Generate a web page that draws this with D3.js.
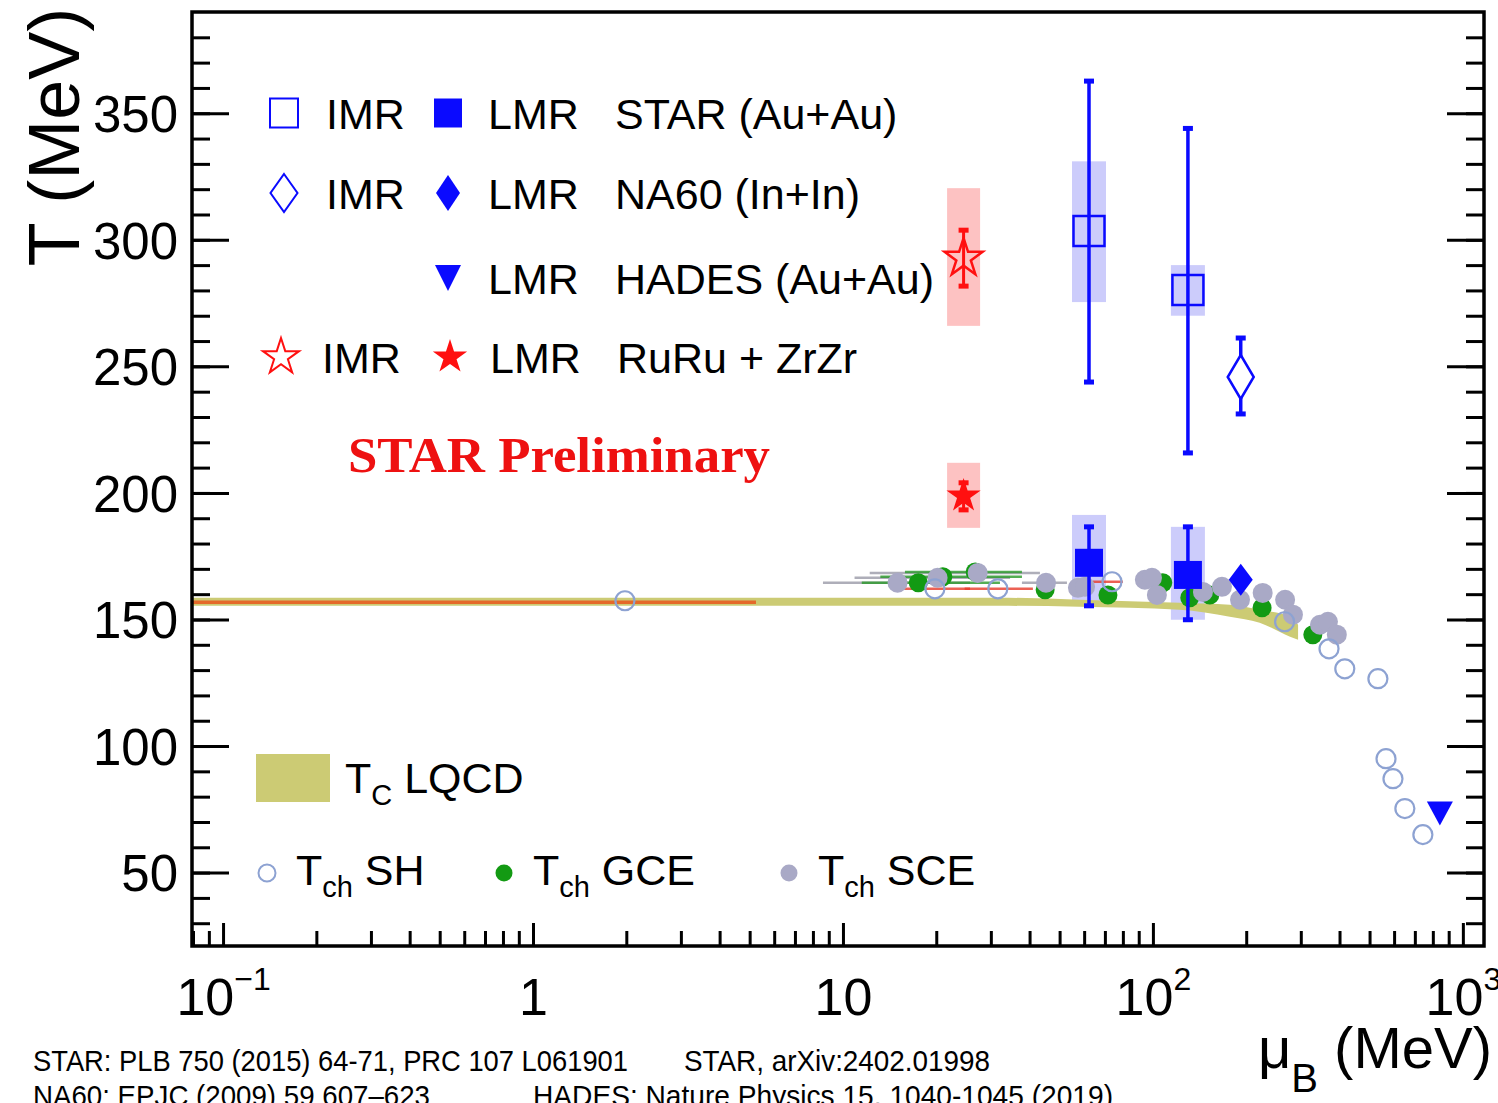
<!DOCTYPE html>
<html>
<head>
<meta charset="utf-8">
<script src="https://cdn.jsdelivr.net/npm/d3@7"></script>
<style>
  body { margin: 0; background: #fff; }
  svg { display: block; }
</style>
</head>
<body>
<div id="chart"></div>
<script>
// ---- values ----
// LQCD crossover band: muB, T low, T high
var lqcdBand = [[0.0794,155.4,158.6],[32,155.4,158.6],[58,155.0,157.8],[122,153.8,156.6],
                [177,151.1,155.8],[221,148.7,153.8],[277,143.2,151.1],[294,142.0,147.9]];
// T_c at muB = 0 drawn as a line
var lqcdLine = [[0.0794,156.8],[5.24,156.8]];

// chemical freeze-out: muB, T, muB low, muB high (null = no bar)
var chSH = [[1.98,157.4,null,null],[19.8,162.1,15.6,25.7],[31.6,162.1,24.7,41.0],[73.8,164.9,64.0,80.0],
            [266,149.1,null,null],[370,138.4,null,null],[416,130.5,null,null],[532,126.6,null,null],
            [565,95.0,null,null],[595,87.1,null,null],[650,75.3,null,null],[743,65.0,null,null]];
var chGCE = [[17.5,164.5,11.5,32.1],[21.0,166.9,13.2,37.8],[26.7,168.8,15.85,37.8],[44.9,161.7,null,null],
             [71.6,159.7,null,null],[107.6,164.5,null,null],[131.5,158.6,null,null],[152.6,159.7,null,null],
             [225,154.6,null,null],[328,144.0,null,null]];
var chSCE = [[15.0,164.5,8.62,25.7],[20.2,166.5,10.9,34.6],[27.2,168.4,12.2,43.2],[45.2,164.5,37.8,52.8],
             [57.3,162.5,null,null],[60.4,162.9,null,null],[94.2,165.7,null,null],[99.3,166.5,null,null],
             [103,159.7,null,null],[145,160.9,null,null],[167,162.9,null,null],[191,157.8,null,null],
             [226,160.5,null,null],[267,157.8,null,null],[283,151.9,null,null],[346,147.9,null,null],
             [367,149.1,null,null],[392,144.0,null,null]];

// dileptons: muB, T, stat low, stat high, sys low, sys high
var starIMR = [[62.2,303.5,243.8,362.7,275.4,331.0],[129.7,280.2,215.8,344.0,270.0,290.0]];
var starLMR = [[62.2,172.4,155.4,186.6,155.4,191.3],[129.7,167.6,149.9,186.6,149.9,186.6]];
var na60IMR = [[192,245.8,231.2,261.2]];
var na60LMR = [[192,165.7]];
var hadesLMR = [[843,73.3]];
var ruruIMR = [[24.5,292.8,281.7,303.8,266.0,320.4]];
var ruruLMR = [[24.5,198.8,193.3,204.0,186.2,211.9]];

var yMajor = [50,100,150,200,250,300,350];
var yMinor = d3.range(30, 390, 10);
var xMajor = [0.1,1,10,100,1000];
var xLabels = [["10","\u22121"],["1",""],["10",""],["10","2"],["10","3"]];
var xMinor = [0.08,0.09,0.2,0.3,0.4,0.5,0.6,0.7,0.8,0.9,2,3,4,5,6,7,8,9,
              20,30,40,50,60,70,80,90,200,300,400,500,600,700,800,900];

var legendTop = [
  {open: "square", filled: "square", label: "STAR (Au+Au)"},
  {open: "diamond", filled: "diamond", label: "NA60 (In+In)"},
  {open: null, filled: "triangle", label: "HADES (Au+Au)"},
  {open: "star", filled: "star", label: "RuRu + ZrZr"}
];
var legendCh = [
  {key: "SH", label: "SH"},
  {key: "GCE", label: "GCE"},
  {key: "SCE", label: "SCE"}
];
var refs = [
  ["STAR: PLB 750 (2015) 64-71, PRC 107 L061901", "STAR, arXiv:2402.01998"],
  ["NA60: EPJC (2009) 59 607\u2013623", "HADES: Nature Physics 15, 1040-1045 (2019)"]
];

// ---- layout ----
var W = 1498, H = 1103;
var pLeft = 192, pRight = 1484, pTop = 12, pBottom = 946;
var blue = "#0a0aff", red = "#ff1010", green = "#139a13", gray = "#a9a9c6", shCol = "#8da2d2";
var font = "'Liberation Sans', Arial, sans-serif";

var svg = d3.select("#chart").append("svg").attr("width", W).attr("height", H);

var x = d3.scaleLog().domain([0.0794, 1170]).range([pLeft, pRight]);
var y = d3.scaleLinear().domain([21, 390]).range([pBottom, pTop]);

svg.append("clipPath").attr("id", "clip")
  .append("rect").attr("x", pLeft).attr("y", pTop).attr("width", pRight - pLeft).attr("height", pBottom - pTop);
var plot = svg.append("g").attr("clip-path", "url(#clip)");

// marker shapes
function shapePath(type, w, h) {
  if (type == "square") return "M" + (-w/2) + "," + (-h/2) + "h" + w + "v" + h + "h" + (-w) + "Z";
  if (type == "diamond") return "M0," + (-h/2) + "L" + (w/2) + ",0L0," + (h/2) + "L" + (-w/2) + ",0Z";
  if (type == "triangle") return "M" + (-w/2) + "," + (-h/2) + "L" + (w/2) + "," + (-h/2) + "L0," + (h/2) + "Z";
  if (type == "star") return d3.symbol(d3.symbolStar, w * w / 0.89081 / 4)();
}

// sys boxes
function sysBoxes(data, col, bw) {
  plot.selectAll(null).data(data).enter().append("rect")
    .attr("x", d => x(d[0]) - bw / 2).attr("width", bw)
    .attr("y", d => y(d[5])).attr("height", d => y(d[4]) - y(d[5]))
    .attr("fill", col);
}
sysBoxes(starIMR, "rgba(120,120,245,0.38)", 34);
sysBoxes(starLMR, "rgba(120,120,245,0.38)", 34);
sysBoxes(ruruIMR, "rgba(250,110,110,0.42)", 33);
sysBoxes(ruruLMR, "rgba(250,110,110,0.42)", 33);

// LQCD band + line
plot.append("path").datum(lqcdBand)
  .attr("d", d3.area().x(d => x(d[0])).y0(d => y(d[1])).y1(d => y(d[2])).curve(d3.curveMonotoneX))
  .attr("fill", "#cccb74");
plot.append("path").datum(lqcdLine)
  .attr("d", d3.line().x(d => x(d[0])).y(d => y(d[1])))
  .attr("stroke", "#e4692a").attr("stroke-width", 3.5).attr("fill", "none");

// freeze-out horizontal bars
function hBars(data, col) {
  plot.selectAll(null).data(data.filter(d => d[2] != null)).enter().append("line")
    .attr("x1", d => x(d[2])).attr("x2", d => x(d[3]))
    .attr("y1", d => y(d[1])).attr("y2", d => y(d[1]))
    .attr("stroke", col).attr("stroke-width", 2.5).attr("opacity", 0.8);
}
hBars(chSCE, "#9a9aa8");
hBars(chGCE, "#2a9a2a");
hBars(chSH, "#e83a2a");

plot.selectAll(null).data(chGCE).enter().append("circle")
  .attr("cx", d => x(d[0])).attr("cy", d => y(d[1])).attr("r", 9.5).attr("fill", green);
plot.selectAll(null).data(chSCE).enter().append("circle")
  .attr("cx", d => x(d[0])).attr("cy", d => y(d[1])).attr("r", 10).attr("fill", gray);
plot.selectAll(null).data(chSH).enter().append("circle")
  .attr("cx", d => x(d[0])).attr("cy", d => y(d[1])).attr("r", 9.5)
  .attr("fill", "none").attr("stroke", shCol).attr("stroke-width", 2.2);

// vertical stat bars with caps
function vBars(data, col, lw) {
  var g = plot.append("g").attr("stroke", col).attr("stroke-width", lw);
  g.selectAll(null).data(data).enter().append("line")
    .attr("x1", d => x(d[0])).attr("x2", d => x(d[0]))
    .attr("y1", d => y(d[2])).attr("y2", d => y(d[3]));
  [2, 3].forEach(function(k) {
    g.selectAll(null).data(data).enter().append("line")
      .attr("x1", d => x(d[0]) - 5).attr("x2", d => x(d[0]) + 5)
      .attr("y1", d => y(d[k])).attr("y2", d => y(d[k]))
      .attr("stroke-width", 5);
  });
}
vBars(starIMR, blue, 3.5);
vBars(starLMR, blue, 3.5);
vBars(na60IMR, blue, 3.5);
vBars(ruruIMR, red, 3);
vBars(ruruLMR, red, 3);

// dilepton markers
function markers(data, type, w, h, fill, stroke, sw) {
  plot.selectAll(null).data(data).enter().append("path")
    .attr("transform", d => "translate(" + x(d[0]) + "," + y(d[1]) + ")")
    .attr("d", shapePath(type, w, h))
    .attr("fill", fill).attr("stroke", stroke).attr("stroke-width", sw);
}
markers(starIMR, "square", 31, 30, "none", blue, 2.5);
markers(starLMR, "square", 28, 28, blue, "none", 0);
markers(na60IMR, "diamond", 26, 44, "#fff", blue, 2.5);
markers(na60LMR, "diamond", 24, 32, blue, "none", 0);
markers(hadesLMR, "triangle", 26, 24, blue, "none", 0);
markers(ruruIMR, "star", 40, 40, "none", red, 2.5);
markers(ruruLMR, "star", 36, 36, red, "none", 0);

// ---- axes ----
function styleAxis(g) {
  g.select(".domain").remove();
  g.selectAll(".tick line").attr("stroke", "#000").attr("stroke-width", 3);
  g.selectAll(".tick text").attr("fill", "#000").attr("font-family", font);
}
svg.append("g").attr("transform", "translate(" + pLeft + ",0)")
  .call(d3.axisLeft(y).tickValues(yMinor).tickSize(-18).tickFormat(""))
  .call(styleAxis);
svg.append("g").attr("transform", "translate(" + pRight + ",0)")
  .call(d3.axisRight(y).tickValues(yMinor).tickSize(-18).tickFormat(""))
  .call(styleAxis);
svg.append("g").attr("transform", "translate(" + pRight + ",0)")
  .call(d3.axisRight(y).tickValues(yMajor).tickSize(-37).tickFormat(""))
  .call(styleAxis);
svg.append("g").attr("transform", "translate(" + pLeft + ",0)")
  .call(d3.axisLeft(y).tickValues(yMajor).tickSize(-37).tickPadding(14).tickFormat(d3.format("d")))
  .call(styleAxis)
  .call(g => g.selectAll(".tick text").attr("font-size", 51).attr("dy", "0.36em"));

svg.append("g").attr("transform", "translate(0," + pBottom + ")")
  .call(d3.axisBottom(x).tickValues(xMinor).tickSize(-15).tickFormat(""))
  .call(styleAxis);
var xAx = svg.append("g").attr("transform", "translate(0," + pBottom + ")")
  .call(d3.axisBottom(x).tickValues(xMajor).tickSize(-23).tickFormat(""))
  .call(styleAxis);
xAx.selectAll(".tick").append("text")
  .attr("y", 69).attr("text-anchor", "middle").attr("font-family", font).attr("fill", "#000")
  .each(function(d, i) {
    var t = d3.select(this), lab = xLabels[i];
    t.append("tspan").attr("font-size", 52).text(lab[0]);
    if (lab[1]) t.append("tspan").attr("font-size", 32).attr("dy", -25).text(lab[1]);
  });

// frame
svg.append("rect").attr("x", pLeft).attr("y", pTop).attr("width", pRight - pLeft).attr("height", pBottom - pTop)
  .attr("fill", "none").attr("stroke", "#000").attr("stroke-width", 3.5);

// axis titles
svg.append("text").attr("transform", "translate(79,137) rotate(-90)")
  .attr("text-anchor", "middle").attr("font-family", font).attr("font-size", 72).text("T (MeV)");
var xt = svg.append("text").attr("x", 1492).attr("y", 1068).attr("text-anchor", "end")
  .attr("font-family", font).attr("font-size", 58);
xt.append("tspan").text("\u03bc");
xt.append("tspan").attr("font-size", 40).attr("dy", 24).text("B");
xt.append("tspan").attr("dy", -24).text(" (MeV)");

// ---- legends ----
var lg = svg.append("g").attr("font-family", font).attr("font-size", 43).attr("fill", "#000");
var rowY = [113, 193, 278, 357];
var openSize = {square: [28, 29], diamond: [27, 38], star: [38, 38]};
var fillSize = {square: [28, 29], diamond: [24, 36], triangle: [26, 26], star: [36, 36]};
legendTop.forEach(function(r, i) {
  var cy = rowY[i], st = r.open == "star";
  if (r.open) {
    lg.append("path").attr("transform", "translate(" + (st ? 281 : 284) + "," + cy + ")")
      .attr("d", shapePath(r.open, openSize[r.open][0], openSize[r.open][1]))
      .attr("fill", "none").attr("stroke", st ? red : blue).attr("stroke-width", 2);
    lg.append("text").attr("x", st ? 322 : 326).attr("y", cy + 16).text("IMR");
  }
  lg.append("path").attr("transform", "translate(" + (st ? 450 : 448) + "," + cy + ")")
    .attr("d", shapePath(r.filled, fillSize[r.filled][0], fillSize[r.filled][1]))
    .attr("fill", st ? red : blue);
  lg.append("text").attr("x", st ? 490 : 488).attr("y", cy + 16).text("LMR");
  lg.append("text").attr("x", st ? 617 : 615).attr("y", cy + 16).text(r.label);
});

svg.append("text").attr("x", 348).attr("y", 472)
  .attr("font-family", "'Liberation Serif', 'Times New Roman', serif").attr("font-weight", "bold")
  .attr("font-size", 50).attr("fill", "#ee1111")
  .attr("textLength", 422).attr("lengthAdjust", "spacingAndGlyphs").text("STAR Preliminary");

// T_C LQCD
svg.append("rect").attr("x", 256).attr("y", 754).attr("width", 74).attr("height", 48).attr("fill", "#cccb74");
function subLabel(xp, yp, main, sub, rest) {
  var t = lg.append("text").attr("x", xp).attr("y", yp);
  t.append("tspan").text(main);
  t.append("tspan").attr("font-size", 29).attr("dy", 12).text(sub);
  t.append("tspan").attr("dy", -12).text(rest);
}
subLabel(345, 793, "T", "C", " LQCD");

var chX = [267, 504, 789];
legendCh.forEach(function(c, i) {
  var cx = chX[i];
  var m = lg.append("circle").attr("cx", cx).attr("cy", 873).attr("r", 8.5);
  if (c.key == "SH") m.attr("fill", "none").attr("stroke", shCol).attr("stroke-width", 2);
  else m.attr("fill", c.key == "GCE" ? green : gray);
  subLabel(cx + 29, 885, "T", "ch", " " + c.label);
});

// references (narrow face, squeezed to the widths in the figure)
var rf = svg.append("g").attr("font-family", font).attr("font-size", 30).attr("fill", "#000");
var refPos = [[[33, 1071, 595], [684, 1071, 306]], [[33, 1106, 397], [533, 1106, 580]]];
refs.forEach(function(line, i) {
  line.forEach(function(s, j) {
    var p = refPos[i][j];
    rf.append("text").attr("x", p[0]).attr("y", p[1])
      .attr("textLength", p[2]).attr("lengthAdjust", "spacingAndGlyphs").text(s);
  });
});
</script>
</body>
</html>
